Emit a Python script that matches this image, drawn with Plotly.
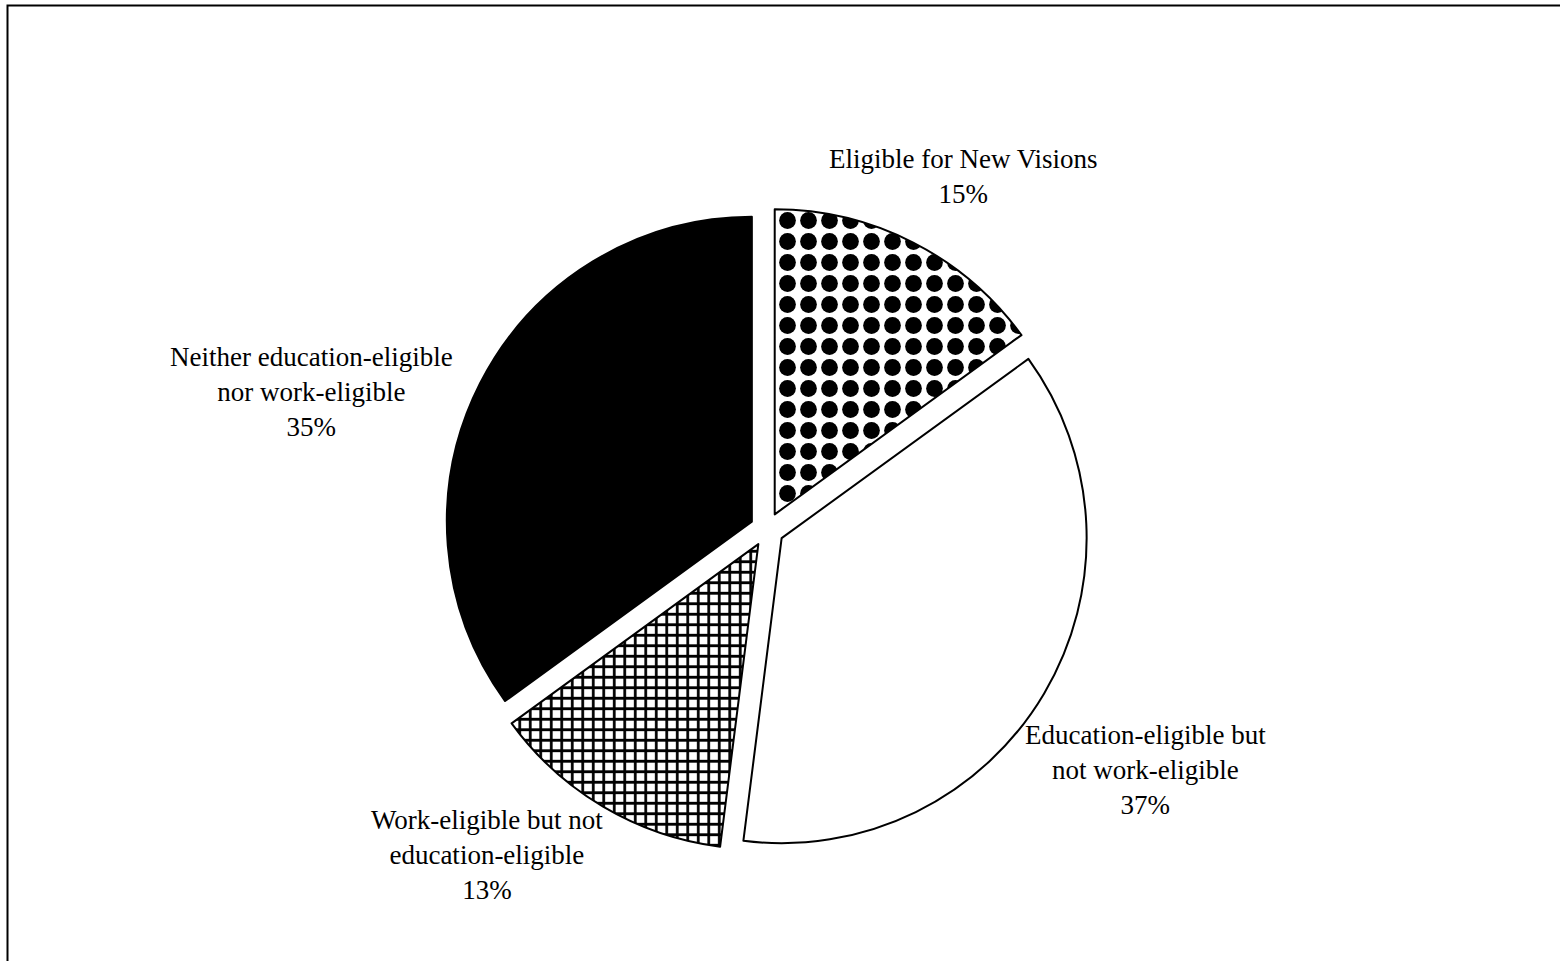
import plotly.graph_objects as go

# Share of participants by eligibility group
categories = [
    "Eligible for New Visions",
    "Education-eligible but<br>not work-eligible",
    "Work-eligible but not<br>education-eligible",
    "Neither education-eligible<br>nor work-eligible",
]
shares = [15, 37, 13, 35]

# Fill styles per slice: dotted, plain white, fine grid, solid black
fill_colors = ["white", "white", "white", "black"]
pattern_shapes = [".", "", "+", ""]
pattern_sizes = [21, 10, 10.5, 10]
pattern_solidity = [0.5, 0.3, 0.45, 0.3]

# Canvas and pie geometry (pixels)
W, H = 1560, 961
cx, cy, radius, pull_px = 767, 529.5, 305, 17
pull = pull_px / radius
box = 2 * radius * (1 + pull)

# Label block centres (pixels), one per slice, placed around the pie
label_xy = [(963, 177), (1145, 770), (487, 855), (311, 392)]
label_font = dict(family="Liberation Serif", size=27, color="black")

fig = go.Figure(
    go.Pie(
        labels=categories,
        values=shares,
        sort=False,
        direction="clockwise",
        rotation=0,
        pull=[pull] * len(shares),
        textinfo="none",
        marker=dict(
            colors=fill_colors,
            line=dict(color="black", width=2),
            pattern=dict(
                shape=pattern_shapes,
                fgcolor="black",
                bgcolor="white",
                size=pattern_sizes,
                solidity=pattern_solidity,
                fillmode="replace",
            ),
        ),
        domain=dict(
            x=[(cx - box / 2) / W, (cx + box / 2) / W],
            y=[1 - (cy + box / 2) / H, 1 - (cy - box / 2) / H],
        ),
        hoverinfo="label+percent",
    )
)

total = sum(shares)
annotations = [
    dict(
        text=f"{cat}<br>{round(100 * v / total)}%",
        x=px / W,
        y=1 - py / H,
        xref="paper",
        yref="paper",
        xanchor="center",
        yanchor="middle",
        align="center",
        showarrow=False,
        font=label_font,
    )
    for cat, v, (px, py) in zip(categories, shares, label_xy)
]

fig.update_layout(
    width=W,
    height=H,
    margin=dict(l=0, r=0, t=0, b=0),
    paper_bgcolor="white",
    plot_bgcolor="white",
    showlegend=False,
    annotations=annotations,
    shapes=[
        dict(
            type="rect",
            xref="paper",
            yref="paper",
            x0=7.5 / W,
            x1=1.02,
            y0=-0.02,
            y1=1 - 5.5 / H,
            line=dict(color="black", width=2),
            fillcolor="rgba(0,0,0,0)",
            layer="below",
        )
    ],
)

fig.write_html("out.html")
